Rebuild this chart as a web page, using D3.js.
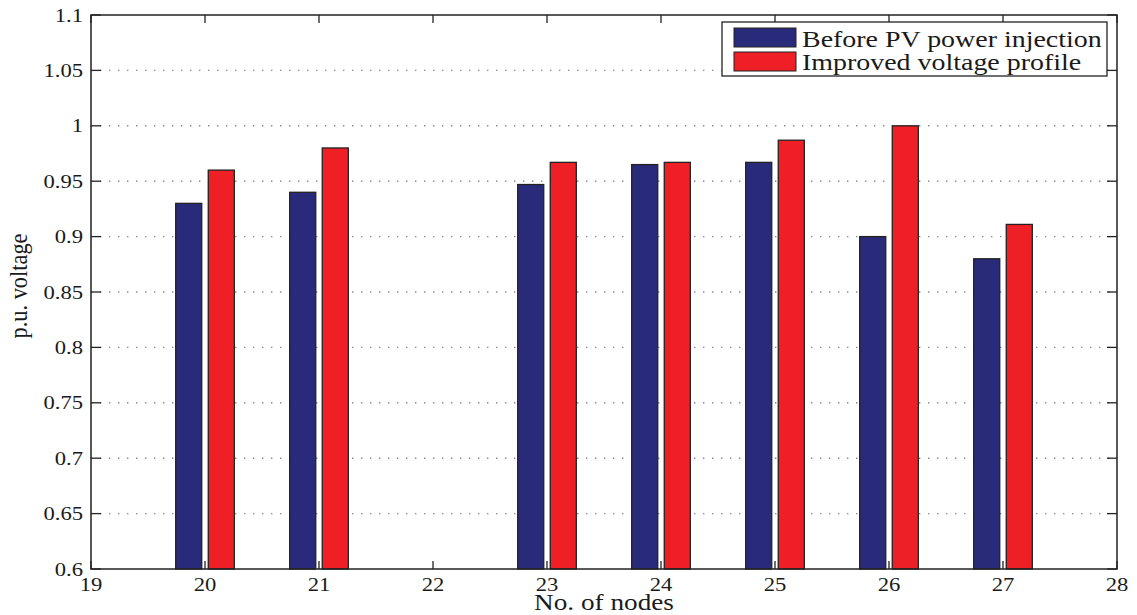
<!DOCTYPE html>
<html>
<head>
<meta charset="utf-8">
<script src="https://cdn.jsdelivr.net/npm/d3@7"></script>
<style>
  html, body { margin: 0; padding: 0; background: #fff; }
  svg { display: block; }
  text { font-family: "Liberation Serif", "Times New Roman", Tinos, Times, serif; fill: #1a1a1a; }
</style>
</head>
<body>
<svg id="chart" width="1137" height="615"></svg>
<script>
// Node numbers and per-unit voltages
const nodes = [20, 21, 23, 24, 25, 26, 27];
const beforeInjection = [0.930, 0.940, 0.947, 0.965, 0.967, 0.900, 0.880];
const improvedProfile = [0.960, 0.980, 0.967, 0.967, 0.987, 1.000, 0.911];

const xTicks = [19, 20, 21, 22, 23, 24, 25, 26, 27, 28];
const yTicks = [0.6, 0.65, 0.7, 0.75, 0.8, 0.85, 0.9, 0.95, 1, 1.05, 1.1];
const yTickLabels = ["0.6", "0.65", "0.7", "0.75", "0.8", "0.85", "0.9", "0.95", "1", "1.05", "1.1"];

const seriesNames = ["Before PV power injection", "Improved voltage profile"];
const seriesColors = ["#2a2a7a", "#ee1f25"];

const margin = { left: 91, right: 1117, top: 15, bottom: 569 };

const svg = d3.select("#chart");

const x = d3.scaleLinear().domain([19, 28]).range([margin.left, margin.right]);
const y = d3.scaleLinear().domain([0.6, 1.1]).range([margin.bottom, margin.top]);

// helper for horizontally stretched text
function label(g, str, px, py, size, anchor, sx, rotate) {
  return g.append("text")
    .attr("transform", `translate(${px},${py}) scale(${sx},1)` + (rotate ? ` rotate(${rotate})` : ""))
    .attr("font-size", size)
    .attr("text-anchor", anchor)
    .text(str);
}

// dotted horizontal grid
svg.append("g").selectAll("line")
  .data(yTicks.slice(1, -1))
  .join("line")
  .attr("x1", margin.left).attr("x2", margin.right)
  .attr("y1", d => y(d)).attr("y2", d => y(d))
  .attr("stroke", "#8a8a8a")
  .attr("stroke-width", 1.4)
  .attr("stroke-dasharray", "1.4,7.6");

// grouped bars
const groupWidth = 2 / 3.5;
const barWidth = groupWidth / 2 * 0.8;
const offsets = [-groupWidth / 4, groupWidth / 4];
const series = [beforeInjection, improvedProfile];

series.forEach((vals, si) => {
  svg.append("g").selectAll("rect")
    .data(nodes.map((n, i) => ({ n, v: vals[i] })))
    .join("rect")
    .attr("x", d => x(d.n + offsets[si] - barWidth / 2))
    .attr("width", d => x(d.n + offsets[si] + barWidth / 2) - x(d.n + offsets[si] - barWidth / 2))
    .attr("y", d => y(d.v))
    .attr("height", d => y(0.6) - y(d.v))
    .attr("fill", seriesColors[si])
    .attr("stroke", "#222")
    .attr("stroke-width", 1.3);
});

// frame
svg.append("rect")
  .attr("x", margin.left).attr("y", margin.top)
  .attr("width", margin.right - margin.left)
  .attr("height", margin.bottom - margin.top)
  .attr("fill", "none")
  .attr("stroke", "#222")
  .attr("stroke-width", 1.5);

// inward ticks
const tickG = svg.append("g").attr("stroke", "#222").attr("stroke-width", 1.3);
yTicks.forEach(v => {
  tickG.append("line").attr("x1", margin.left).attr("x2", margin.left + 10).attr("y1", y(v)).attr("y2", y(v));
  tickG.append("line").attr("x1", margin.right).attr("x2", margin.right - 10).attr("y1", y(v)).attr("y2", y(v));
});
xTicks.forEach(v => {
  tickG.append("line").attr("x1", x(v)).attr("x2", x(v)).attr("y1", margin.bottom).attr("y2", margin.bottom - 8);
  tickG.append("line").attr("x1", x(v)).attr("x2", x(v)).attr("y1", margin.top).attr("y2", margin.top + 8);
});

// tick labels
const labels = svg.append("g");
yTicks.forEach((v, i) => {
  label(labels, yTickLabels[i], 83, y(v) + 6.5, 19.5, "end", 1.16);
});
xTicks.forEach(v => {
  label(labels, String(v), x(v), margin.bottom + 22, 19.5, "middle", 1.16);
});

// axis titles
label(labels, "No. of nodes", (margin.left + margin.right) / 2, 610, 22.5, "middle", 1.21);
label(labels, "p.u. voltage", 32 / 1.17, 286, 22.4, "middle", 1.17, -90);

// legend
const legend = svg.append("g");
legend.append("rect")
  .attr("x", 722).attr("y", 22).attr("width", 385).attr("height", 54)
  .attr("fill", "#fff").attr("stroke", "#222").attr("stroke-width", 1.3);
seriesNames.forEach((name, i) => {
  legend.append("rect")
    .attr("x", 734).attr("y", 28 + i * 24).attr("width", 62).attr("height", 19)
    .attr("fill", seriesColors[i]).attr("stroke", "#222").attr("stroke-width", 1);
  label(legend, name, 802, 46.5 + i * 23.5, 23, "start", 1.215);
});
</script>
</body>
</html>
